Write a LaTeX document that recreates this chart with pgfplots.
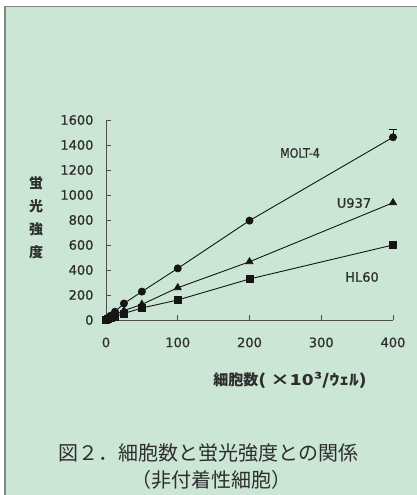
\documentclass[border=0pt]{standalone}
\usepackage{fontspec}
\setmainfont{DejaVu Sans}
\newfontfamily\tickfont[FakeBold=0.8]{DejaVu Sans}
\newfontfamily\jp{Noto Sans CJK JP}
\usepackage{pgfplots}
\usepackage{pgfplotstable}
\pgfplotsset{compat=1.18}

\definecolor{panel}{HTML}{CBE6D5}
\definecolor{frame}{HTML}{858585}
\definecolor{ink}{HTML}{2E2E2E}
\definecolor{series}{HTML}{151515}

% fluorescence intensity vs. cells per well (x10^3)
\pgfplotstableread{
x      molt  u937  hl60
0      5     3     2
3.125  18    12    8
6.25   34    22    15
12.5   66    42    28
25     132   75    52
50     227   125   96
100    413   258   160
200    795   466   328
400    1462  938   600
}\cells

\begin{document}
\begin{tikzpicture}
\useasboundingbox (0pt,0pt) rectangle (417pt,495pt);
\fill[white] (0pt,0pt) rectangle (417pt,495pt);
\fill[panel] (5.5pt,0pt) rectangle (417pt,488pt);
\draw[frame, line width=1.6pt] (4.8pt,0pt) -- (4.8pt,488.6pt) -- (417pt,488.6pt);

\begin{axis}[
  at={(106pt,175pt)}, anchor=south west,
  scale only axis, width=287pt, height=200pt,
  xmin=0, xmax=400, ymin=0, ymax=1600,
  clip=false,
  axis lines=left,
  axis line style={-, draw=ink!85, line width=0.9pt},
  tick align=inside, major tick length=5pt,
  tick style={draw=ink!85, line width=0.8pt},
  xtick={0,100,200,300,400},
  ytick={0,200,...,1600},
  /pgf/number format/assume math mode=true,
  /pgf/number format/1000 sep={},
  tick label style={font=\tickfont\fontsize{13}{14}\selectfont, text=ink},
  yticklabel style={xshift=-9pt},
  xticklabel style={yshift=-14pt},
]
  \addplot[series, line width=0.9pt, mark=*, mark size=3.5pt] table[x=x, y=molt] {\cells};
  \addplot[series, line width=0.9pt, mark=triangle*, mark size=4pt] table[x=x, y=u937] {\cells};
  \addplot[series, line width=0.9pt, mark=square*, mark size=3.5pt] table[x=x, y=hl60] {\cells};
  % standard deviation at the highest cell count
  \addplot[series, line width=0.9pt, only marks, mark=none,
    error bars/.cd, y dir=plus, y explicit,
    error mark options={rotate=90, mark size=4pt, line width=0.9pt}]
    coordinates {(400,1462) +- (0,63)};
\end{axis}

\node[text=ink, font=\tickfont\fontsize{13}{14}\selectfont] at (300pt,342pt) {\scalebox{0.85}[1]{MOLT-4}};
\node[text=ink, font=\tickfont\fontsize{13}{14}\selectfont] at (354pt,292pt) {U937};
\node[text=ink, font=\tickfont\fontsize{13}{14}\selectfont] at (362pt,218pt) {HL60};

\node[text=ink, font=\jp\bfseries\fontsize{15}{15}\selectfont] at (290pt,115pt)
  {細胞数\scalebox{1.3}[1]{( ×10³/ｳｪﾙ)}};
\node[text=ink, align=center, font=\jp\bfseries\fontsize{14}{23}\selectfont] at (36pt,277pt) {蛍\\光\\強\\度};

\node[text=ink, font=\jp\fontsize{20}{20}\selectfont] at (208.5pt,42pt) {図２．細胞数と蛍光強度との関係};
\node[text=ink, font=\jp\fontsize{20}{20}\selectfont] at (211pt,15pt) {（非付着性細胞）};
\end{tikzpicture}
\end{document}
